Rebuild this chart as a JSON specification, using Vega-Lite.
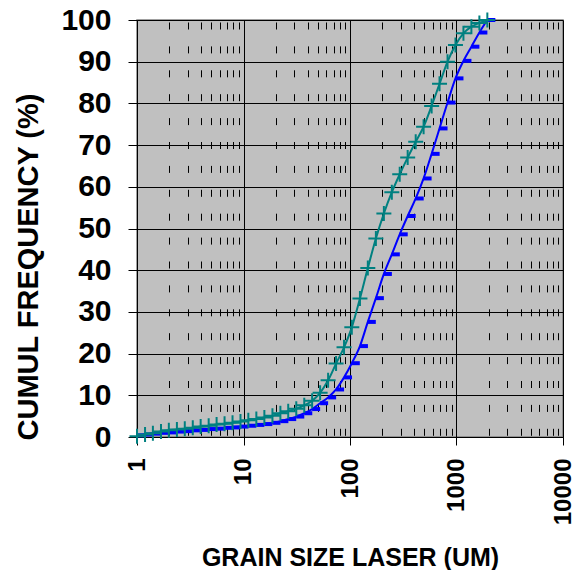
{
  "$schema": "https://vega.github.io/schema/vega-lite/v6.json",
  "width": 426,
  "height": 417,
  "autosize": {"type": "none"},
  "padding": {"left": 137, "top": 20, "right": 12, "bottom": 133},
  "background": "white",
  "config": {
    "view": {"fill": "#C0C0C0", "stroke": "#808080", "strokeWidth": 1.5},
    "font": "Liberation Sans"
  },
  "datasets": {
    "curves": [
      {"size": 1.00, "series": "blue", "cum": 0.4}, {"size": 1.00, "series": "teal", "cum": 0.2},
      {"size": 1.19, "series": "blue", "cum": 0.6}, {"size": 1.19, "series": "teal", "cum": 0.6},
      {"size": 1.41, "series": "blue", "cum": 0.8}, {"size": 1.41, "series": "teal", "cum": 0.9},
      {"size": 1.68, "series": "blue", "cum": 1.0}, {"size": 1.68, "series": "teal", "cum": 1.3},
      {"size": 1.99, "series": "blue", "cum": 1.1}, {"size": 1.99, "series": "teal", "cum": 1.6},
      {"size": 2.37, "series": "blue", "cum": 1.3}, {"size": 2.37, "series": "teal", "cum": 1.8},
      {"size": 2.81, "series": "blue", "cum": 1.4}, {"size": 2.81, "series": "teal", "cum": 2.0},
      {"size": 3.34, "series": "blue", "cum": 1.6}, {"size": 3.34, "series": "teal", "cum": 2.2},
      {"size": 3.96, "series": "blue", "cum": 1.7}, {"size": 3.96, "series": "teal", "cum": 2.5},
      {"size": 4.71, "series": "blue", "cum": 1.9}, {"size": 4.71, "series": "teal", "cum": 2.7},
      {"size": 5.59, "series": "blue", "cum": 2.0}, {"size": 5.59, "series": "teal", "cum": 3.0},
      {"size": 6.64, "series": "blue", "cum": 2.2}, {"size": 6.64, "series": "teal", "cum": 3.2},
      {"size": 7.89, "series": "blue", "cum": 2.3}, {"size": 7.89, "series": "teal", "cum": 3.4},
      {"size": 9.37, "series": "blue", "cum": 2.5}, {"size": 9.37, "series": "teal", "cum": 3.7},
      {"size": 11.1, "series": "blue", "cum": 2.7}, {"size": 11.1, "series": "teal", "cum": 4.0},
      {"size": 13.2, "series": "blue", "cum": 2.9}, {"size": 13.2, "series": "teal", "cum": 4.3},
      {"size": 15.7, "series": "blue", "cum": 3.1}, {"size": 15.7, "series": "teal", "cum": 4.7},
      {"size": 18.7, "series": "blue", "cum": 3.4}, {"size": 18.7, "series": "teal", "cum": 5.1},
      {"size": 22.2, "series": "blue", "cum": 3.8}, {"size": 22.2, "series": "teal", "cum": 5.7},
      {"size": 26.3, "series": "blue", "cum": 4.3}, {"size": 26.3, "series": "teal", "cum": 6.2},
      {"size": 31.3, "series": "blue", "cum": 4.9}, {"size": 31.3, "series": "teal", "cum": 6.8},
      {"size": 37.2, "series": "blue", "cum": 5.7}, {"size": 37.2, "series": "teal", "cum": 7.6},
      {"size": 44.1, "series": "blue", "cum": 6.7}, {"size": 44.1, "series": "teal", "cum": 8.7},
      {"size": 52.4, "series": "blue", "cum": 8.1}, {"size": 52.4, "series": "teal", "cum": 10.6},
      {"size": 62.3, "series": "blue", "cum": 9.5}, {"size": 62.3, "series": "teal", "cum": 13.6},
      {"size": 74.0, "series": "blue", "cum": 11.4}, {"size": 74.0, "series": "teal", "cum": 17.6},
      {"size": 87.9, "series": "blue", "cum": 14.3}, {"size": 87.9, "series": "teal", "cum": 21.5},
      {"size": 104, "series": "blue", "cum": 17.7}, {"size": 104, "series": "teal", "cum": 26.3},
      {"size": 124, "series": "blue", "cum": 21.8}, {"size": 124, "series": "teal", "cum": 33.2},
      {"size": 147, "series": "blue", "cum": 27.6}, {"size": 147, "series": "teal", "cum": 40.5},
      {"size": 175, "series": "blue", "cum": 33.3}, {"size": 175, "series": "teal", "cum": 47.6},
      {"size": 208, "series": "blue", "cum": 39.1}, {"size": 208, "series": "teal", "cum": 53.6},
      {"size": 247, "series": "blue", "cum": 43.8}, {"size": 247, "series": "teal", "cum": 58.7},
      {"size": 293, "series": "blue", "cum": 48.6}, {"size": 293, "series": "teal", "cum": 63.0},
      {"size": 348, "series": "blue", "cum": 53.0}, {"size": 348, "series": "teal", "cum": 67.0},
      {"size": 414, "series": "blue", "cum": 57.2}, {"size": 414, "series": "teal", "cum": 70.8},
      {"size": 491, "series": "blue", "cum": 62.0}, {"size": 491, "series": "teal", "cum": 74.4},
      {"size": 584, "series": "blue", "cum": 67.9}, {"size": 584, "series": "teal", "cum": 79.4},
      {"size": 693, "series": "blue", "cum": 74.0}, {"size": 693, "series": "teal", "cum": 84.7},
      {"size": 824, "series": "blue", "cum": 80.2}, {"size": 824, "series": "teal", "cum": 90.0},
      {"size": 978, "series": "blue", "cum": 86.0}, {"size": 978, "series": "teal", "cum": 94.0},
      {"size": 1162, "series": "blue", "cum": 90.2}, {"size": 1162, "series": "teal", "cum": 96.8},
      {"size": 1380, "series": "blue", "cum": 93.6}, {"size": 1380, "series": "teal", "cum": 98.4},
      {"size": 1640, "series": "blue", "cum": 97.0}, {"size": 1640, "series": "teal", "cum": 99.3},
      {"size": 1948, "series": "blue", "cum": 100}, {"size": 1948, "series": "teal", "cum": 100}
    ]
  },
  "data": {"name": "curves"},
  "encoding": {
    "x": {
      "field": "size",
      "type": "quantitative",
      "scale": {"type": "log", "domain": [1, 10000], "nice": false},
      "axis": {
        "values": [1, 2, 3, 4, 5, 6, 7, 8, 9, 10, 20, 30, 40, 50, 60, 70, 80, 90, 100, 200, 300, 400, 500, 600, 700, 800, 900, 1000, 2000, 3000, 4000, 5000, 6000, 7000, 8000, 9000, 10000],
        "format": "d",
        "labelExpr": "indexof([1,10,100,1000,10000], datum.value) >= 0 ? datum.label : ''",
        "labelAngle": 270,
        "labelAlign": "right",
        "labelBaseline": "middle",
        "labelFont": "Liberation Sans",
        "labelFontWeight": "bold",
        "labelFontSize": 24,
        "labelColor": "black",
        "labelPadding": 13,
        "labelOverlap": false,
        "labelBound": false,
        "labelFlush": false,
        "tickSize": 8,
        "tickColor": "black",
        "tickOpacity": {"condition": {"test": "indexof([1,10,100,1000,10000], datum.value) >= 0", "value": 1}, "value": 0},
        "domainColor": "black",
        "domainWidth": 1,
        "grid": true,
        "gridColor": "black",
        "gridOpacity": 1,
        "gridWidth": 1,
        "gridDash": {"condition": {"test": "indexof([1,10,100,1000,10000], datum.value) >= 0", "value": []}, "value": [7, 16.9]},
        "gridDashOffset": 21.9,
        "title": "GRAIN SIZE LASER  (UM)",
        "titleFont": "Liberation Sans",
        "titleFontSize": 25,
        "titleFontWeight": "bold",
        "titleColor": "black",
        "titleX": 213,
        "titleY": 128,
        "titleAlign": "center",
        "titleBaseline": "alphabetic"
      }
    },
    "y": {
      "field": "cum",
      "type": "quantitative",
      "scale": {"domain": [0, 100], "nice": false},
      "axis": {
        "values": [0, 10, 20, 30, 40, 50, 60, 70, 80, 90, 100],
        "labelFont": "Liberation Sans",
        "labelFontWeight": "bold",
        "labelFontSize": 30,
        "labelColor": "black",
        "labelPadding": 17,
        "labelBaseline": "middle",
        "tickSize": 9,
        "tickColor": "black",
        "domainColor": "black",
        "domainWidth": 1,
        "grid": true,
        "gridColor": "black",
        "gridOpacity": 1,
        "gridWidth": 1,
        "title": "CUMUL FREQUENCY    (%)",
        "titleFont": "Liberation Sans",
        "titleFontSize": 29,
        "titleFontWeight": "bold",
        "titleColor": "black",
        "titleAngle": 270,
        "titleAlign": "left",
        "titleBaseline": "alphabetic",
        "titleX": -100,
        "titleY": 420
      }
    },
    "color": {
      "field": "series",
      "type": "nominal",
      "scale": {"domain": ["blue", "teal"], "range": ["#0000FF", "#008080"]},
      "legend": null
    }
  },
  "layer": [
    {"mark": {"type": "line", "interpolate": "monotone", "strokeWidth": 2, "clip": false}},
    {
      "transform": [{"filter": "datum.series == 'blue'"}],
      "mark": {"type": "point", "shape": "M0,-0.25H1V0.25H0Z", "filled": true, "size": 256, "opacity": 1, "strokeWidth": 0}
    },
    {
      "transform": [{"filter": "datum.series == 'teal'"}],
      "mark": {"type": "point", "shape": "M-1,0H1M0,-1V1", "filled": false, "size": 225, "strokeWidth": 2, "opacity": 1}
    }
  ]
}
